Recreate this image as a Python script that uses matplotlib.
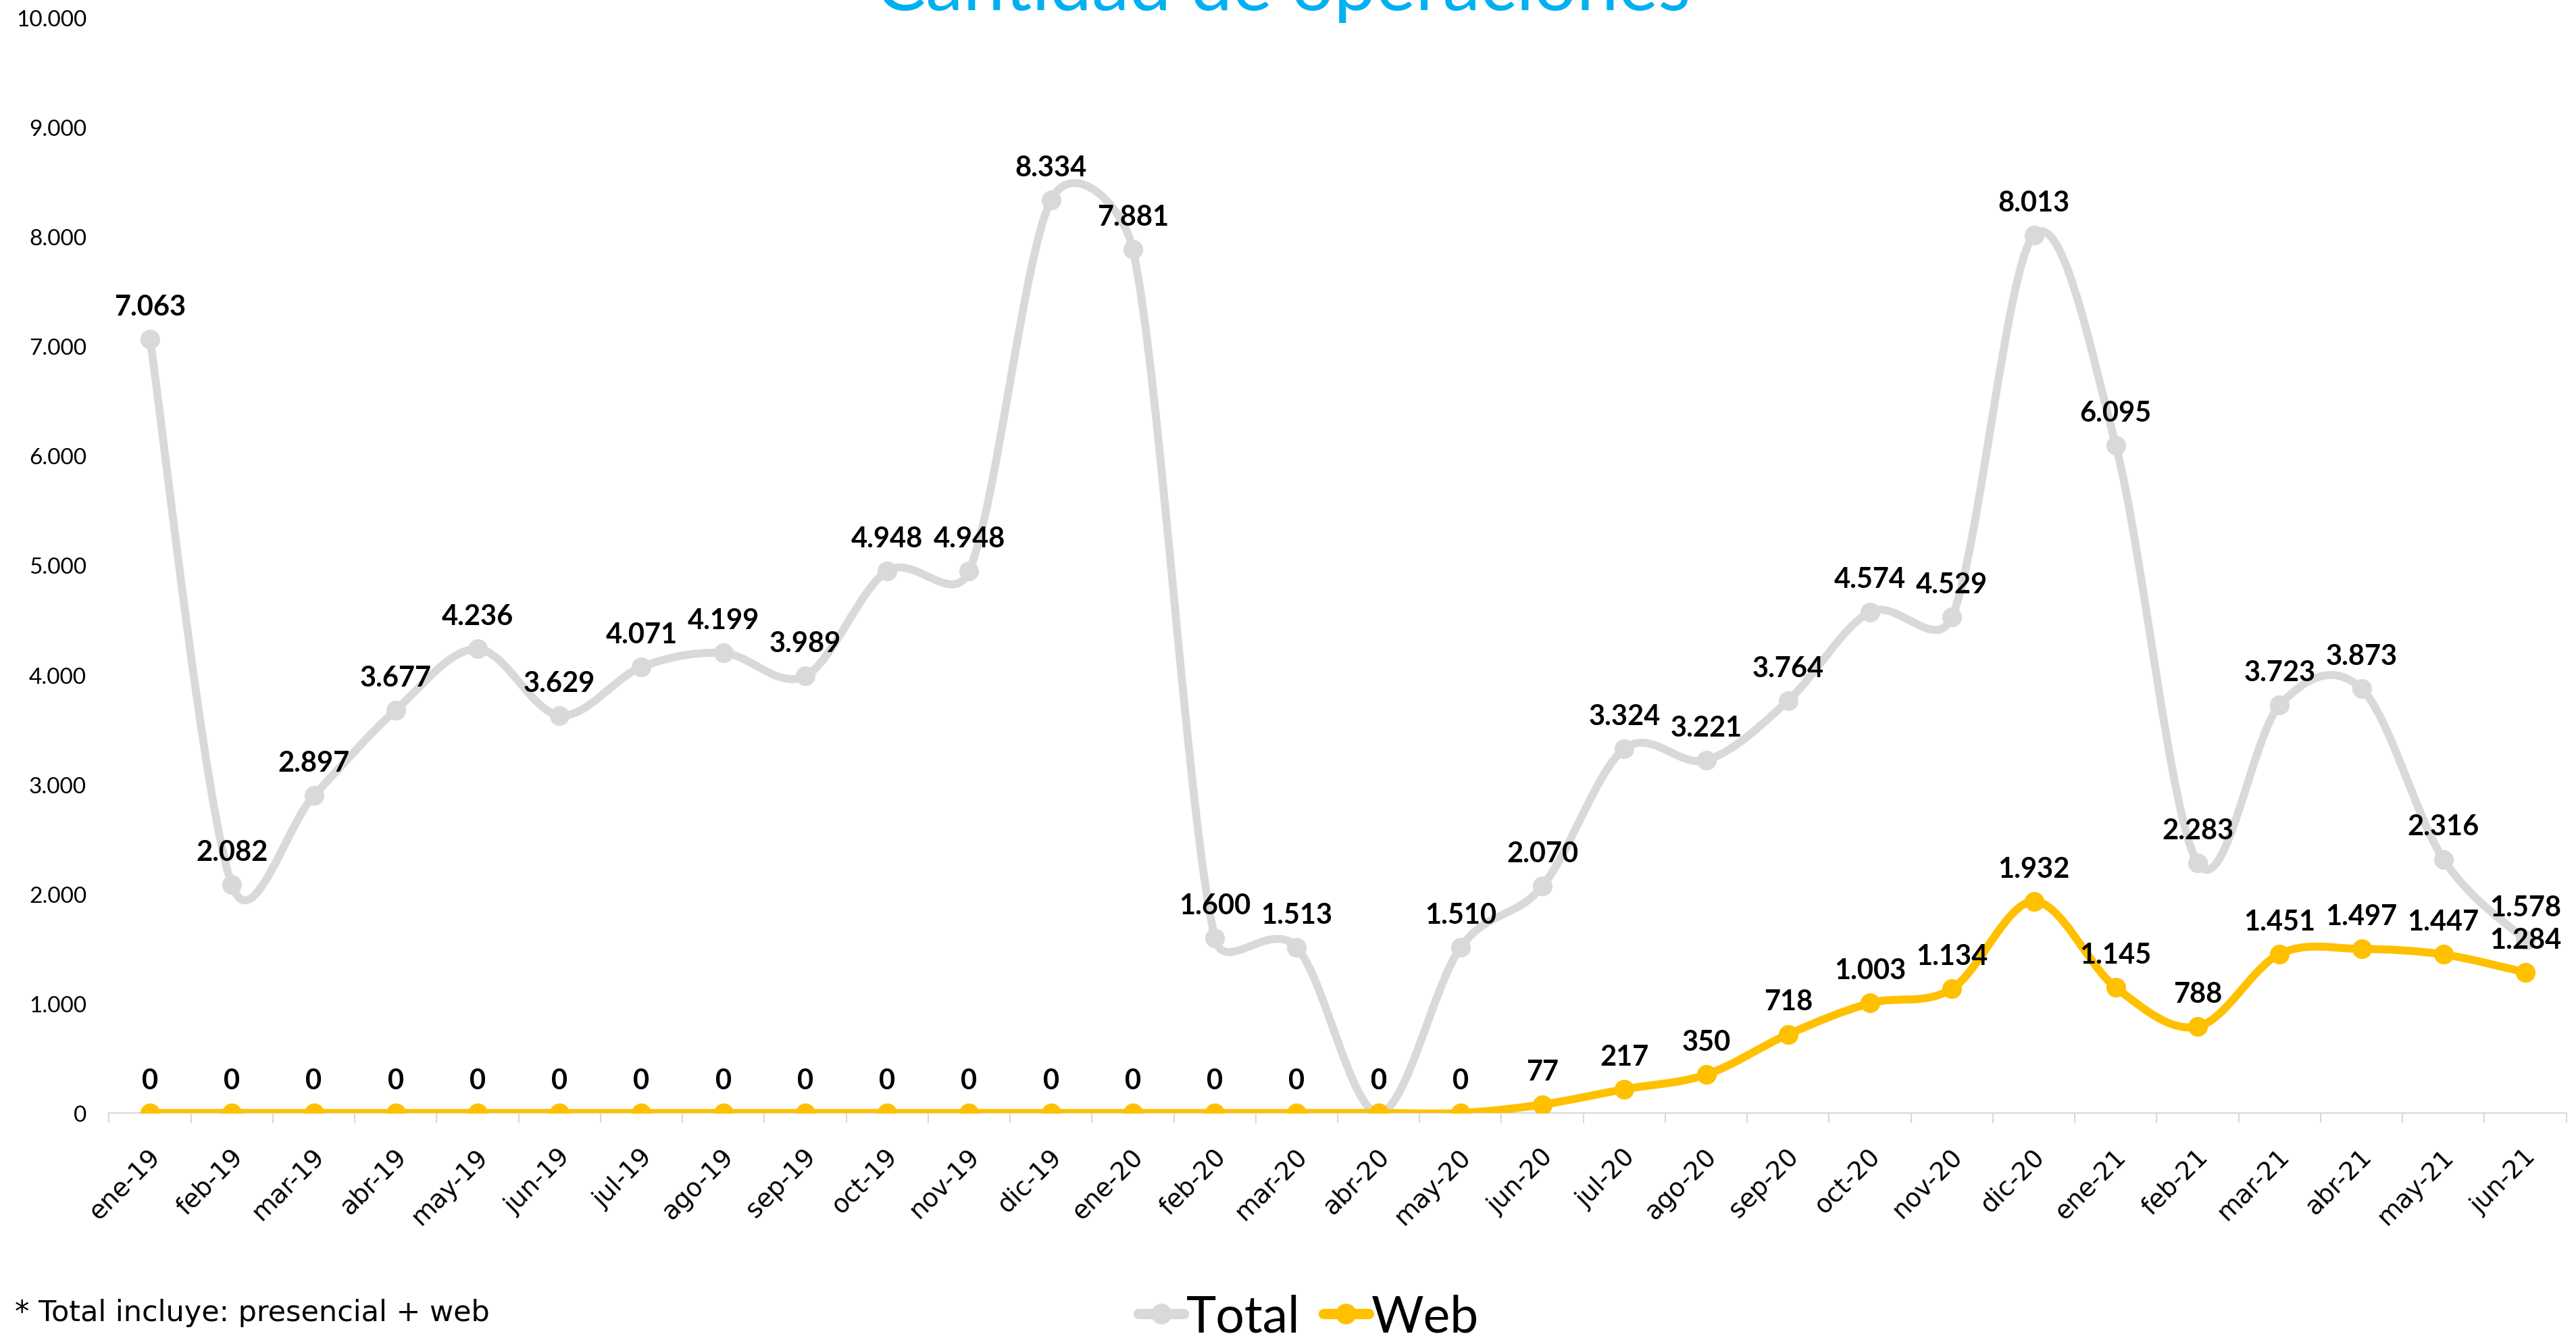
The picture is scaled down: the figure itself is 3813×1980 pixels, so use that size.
import matplotlib
matplotlib.use("Agg")
import matplotlib.pyplot as plt
import matplotlib.transforms as mtransforms
from matplotlib.path import Path
from matplotlib.patches import PathPatch
from matplotlib.lines import Line2D
import numpy as np

months = ["ene-19", "feb-19", "mar-19", "abr-19", "may-19", "jun-19", "jul-19", "ago-19",
          "sep-19", "oct-19", "nov-19", "dic-19", "ene-20", "feb-20", "mar-20", "abr-20",
          "may-20", "jun-20", "jul-20", "ago-20", "sep-20", "oct-20", "nov-20", "dic-20",
          "ene-21", "feb-21", "mar-21", "abr-21", "may-21", "jun-21"]
total = [7063, 2082, 2897, 3677, 4236, 3629, 4071, 4199, 3989, 4948, 4948, 8334, 7881, 1600,
         1513, 0, 1510, 2070, 3324, 3221, 3764, 4574, 4529, 8013, 6095, 2283, 3723, 3873,
         2316, 1578]
web = [0, 0, 0, 0, 0, 0, 0, 0, 0, 0, 0, 0, 0, 0, 0, 0, 0, 77, 217, 350, 718, 1003, 1134,
       1932, 1145, 788, 1451, 1497, 1447, 1284]
yticks = [0, 1000, 2000, 3000, 4000, 5000, 6000, 7000, 8000, 9000, 10000]

title = "Cantidad de operaciones"
footnote = "* Total incluye: presencial + web"
series_names = ["Total", "Web"]

GRAY = "#D9D9D9"
YELLOW = "#FFC000"
CYAN = "#00B0F0"
CAL = ["Lato", "DejaVu Sans"]
VER = ["DejaVu Sans"]

DPI = 100
fig = plt.figure(figsize=(38.13, 19.81), dpi=DPI)
ax = fig.add_axes([0.04233, 0.1681, 0.9539, 0.8183])
x = np.arange(len(months))
ax.set_xlim(-0.5, len(months) - 0.5)
ax.set_ylim(yticks[0], yticks[-1])


def fmt(v):
    return f"{v:,.0f}".replace(",", ".")


def excel_smooth(xs, ys):
    pts = np.column_stack([xs, ys]).astype(float)
    disp = ax.transData.transform(pts)
    n = len(pts)

    def d(a, b):
        return np.hypot(*(disp[a] - disp[b]))

    verts = [pts[0]]
    codes = [Path.MOVETO]
    for i in range(n - 1):
        i0 = i - 1 if i > 0 else i
        i3 = i + 2 if i + 2 < n else i + 1
        d12 = d(i, i + 1)
        d02 = d(i0, i + 1)
        d13 = d(i, i3)
        f0 = 1 / 6
        f1 = 1 / 6
        if d02 / 6 > d12 / 2 and d02 > 0:
            f0 = d12 / d02 / 2
        if d13 / 6 > d12 / 2 and d13 > 0:
            f1 = d12 / d13 / 2
        c1 = pts[i] + (pts[i + 1] - pts[i0]) * f0
        c2 = pts[i + 1] - (pts[i3] - pts[i]) * f1
        verts += [c1, c2, pts[i + 1]]
        codes += [Path.CURVE4] * 3
    return Path(verts, codes)


LW = 8.5
MS = 20
for vals, col, z in [(total, GRAY, 2), (web, YELLOW, 3)]:
    patch = PathPatch(excel_smooth(x, vals), facecolor="none", edgecolor=col, lw=LW,
                      capstyle="round", joinstyle="round", zorder=z)
    ax.add_patch(patch)
    ax.plot(x, vals, linestyle="none", marker="o", markersize=MS, color=col, zorder=z + 0.1)

for vals in (total, web):
    for xi, v in zip(x, vals):
        ax.annotate(fmt(v), (xi, v), xytext=(0, 26), textcoords="offset points",
                    ha="center", va="baseline", fontsize=30, fontweight="bold",
                    family=CAL, color="black", zorder=5)

ax.set_yticks(yticks)
ax.set_yticklabels([fmt(v) for v in yticks], family=CAL, fontsize=24)
ax.tick_params(axis="y", length=0, pad=24)

ax.set_xticks(x)
ax.set_xticks(np.arange(-0.5, len(months), 1.0), minor=True)
ax.set_xticklabels(months, rotation=45, ha="right", va="center", rotation_mode="anchor",
                   family=VER, fontsize=27)
ax.tick_params(axis="x", which="major", length=0, pad=42)
ax.tick_params(axis="x", which="minor", length=11, width=1.5, color=GRAY, direction="out")
shift = mtransforms.ScaledTranslation(10 / DPI, 0, fig.dpi_scale_trans)
for lab in ax.get_xticklabels():
    lab.set_transform(lab.get_transform() + shift)

for s in ("top", "right", "left"):
    ax.spines[s].set_visible(False)
ax.spines["bottom"].set_color(GRAY)
ax.spines["bottom"].set_linewidth(1.5)
ax.grid(False)

fig.text(0.498, 1 - 15 / 1981, title, ha="center", va="baseline", fontsize=80,
         color=CYAN, family=CAL)
fig.text(22 / 3813, 26 / 1981, footnote, ha="left", va="baseline", fontsize=31,
         family=VER, color="black")

handles = [Line2D([], [], color=GRAY, lw=11, marker="o", markersize=21, solid_capstyle="round"),
           Line2D([], [], color=YELLOW, lw=11, marker="o", markersize=21, solid_capstyle="round")]
fig.legend(handles, series_names, loc="center", bbox_to_anchor=(0.508, 31 / 1981),
           ncol=2, frameon=False, prop={"family": CAL, "size": 54},
           handlelength=0.9, handletextpad=0.05, columnspacing=0.45, borderpad=0,
           borderaxespad=0)

fig.savefig("out.png", dpi=DPI)
